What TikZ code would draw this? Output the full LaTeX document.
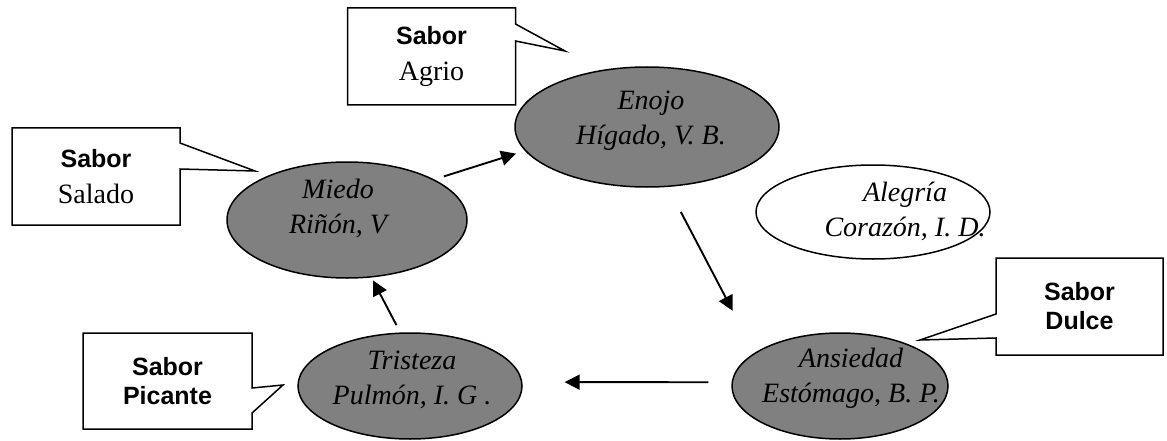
\documentclass[tikz,border=0pt]{standalone}
\usepackage{fontspec}
\setmainfont{Liberation Serif}
\setsansfont{Liberation Sans}
\usepackage{tikz}
\usetikzlibrary{arrows.meta,calc,shapes.geometric}
\definecolor{organgray}{RGB}{128,128,128}

\begin{document}
\begin{tikzpicture}[
  x=1pt, y=-1pt, >={Triangle[length=15pt,width=15pt]},
  organ/.style={draw, ellipse, line width=1.5pt, fill=organgray, inner sep=0pt, outer sep=0pt},
  organtxt/.style={align=center, inner sep=0pt, font=\fontsize{28}{35}\selectfont\itshape},
  tag/.style={minimum width=168pt, minimum height=97pt, inner sep=0pt, outer sep=0pt, align=center, font=\fontsize{25}{36}\selectfont},
  boldtag/.style={tag, font=\fontsize{25}{29}\selectfont\sffamily\bfseries},
  tagline/.style={draw, line width=1.5pt, line join=miter},
  flow/.style={->, line width=1.9pt},
]
  \useasboundingbox (0,0) rectangle (1167,441);

  \node[organ, minimum width=264pt, minimum height=120pt] (enojo) at (647,127) {};
  \node[organ, minimum width=240pt, minimum height=116pt] (miedo) at (347,220) {};
  \node[organ, fill=white, minimum width=234pt, minimum height=94pt] (alegria) at (873,212) {};
  \node[organ, minimum width=216pt, minimum height=106pt] (ansiedad) at (840,386) {};
  \node[organ, minimum width=224pt, minimum height=106pt] (tristeza) at (410,386) {};

  \node[organtxt] (enojoT) at (651,121) {Enojo\\Hígado, V. B.};
  \node[organtxt] (miedoT) at (338,208) {Miedo\\Riñón, V};
  \node[organtxt] (alegriaT) at (905,211) {Alegría\\Corazón, I. D.};
  \node[organtxt] (ansiedadT) at (851,378) {Ansiedad\\Estómago, B. P.};
  \node[organtxt] (tristezaT) at (412,380) {Tristeza\\Pulmón, I. G .};

  \node[tag] (agrio) at (431.5,56.5) {\textsf{\bfseries Sabor}\\{\fontsize{28}{36}\selectfont Agrio}};
  \node[tag] (salado) at (96,176.5) {\textsf{\bfseries Sabor}\\{\fontsize{28}{36}\selectfont Salado}};
  \node[boldtag, minimum width=169pt, minimum height=96pt] (picante) at (167.5,381) {Sabor\\Picante};
  \node[boldtag, minimum width=167pt] (dulce) at (1079.5,306.5) {Sabor\\Dulce};

  \coordinate (agrioTip) at (565,51);
  \coordinate (saladoTip) at (255,171);
  \coordinate (picanteTip) at (283,385);
  \coordinate (dulceTip) at (920,340);

  \draw[tagline] (agrio.north west) -- (agrio.north east) -- ($(agrio.north east)+(0,16)$) -- (agrioTip)
    -- ($(agrio.north east)+(0,33)$) -- (agrio.south east) -- (agrio.south west) -- cycle;
  \draw[tagline] (salado.north west) -- (salado.north east) -- ($(salado.north east)+(0,15)$) -- (saladoTip)
    -- ($(salado.north east)+(0,41)$) -- (salado.south east) -- (salado.south west) -- cycle;
  \draw[tagline] (picante.north west) -- (picante.north east) -- ($(picante.north east)+(0,55)$) -- (picanteTip)
    -- ($(picante.north east)+(0,80)$) -- (picante.south east) -- (picante.south west) -- cycle;
  \draw[tagline] (dulce.north west) -- (dulce.north east) -- (dulce.south east) -- (dulce.south west)
    -- ($(dulce.north west)+(0,80)$) -- (dulceTip) -- ($(dulce.north west)+(0,56)$) -- cycle;

  \draw[flow, shorten <=11pt, shorten >=10pt] (miedo.25) -- (enojo.191);
  \draw[flow, shorten <=29pt, shorten >=48pt] (enojo.289) -- (ansiedad.159);
  \draw[flow, shorten <=24pt, shorten >=43pt] (ansiedad.178) -- (tristeza.2);
  \draw[flow, shorten <=9pt, shorten >=4pt] (tristeza.100) -- (miedo.293);
\end{tikzpicture}
\end{document}
